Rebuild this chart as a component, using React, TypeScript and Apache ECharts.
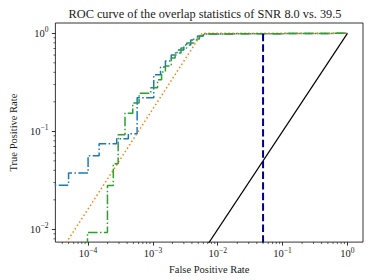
import React, { useEffect, useRef } from "react";
import * as echarts from "echarts";

// axis ranges (data units)
const xMin = 3.13e-5;
const xMax = 1.74;
const yMin = 0.00741;
const yMax = 1.274;
const xMajorTicks = [1e-4, 1e-3, 1e-2, 1e-1, 1];
const yMajorTicks = [1e-2, 1e-1, 1];
const minorMultipliers = [2, 3, 4, 5, 6, 7, 8, 9];
const decades = [1e-5, 1e-4, 1e-3, 1e-2, 1e-1, 1];

// Blue ROC (step breakpoints: FPR where the TPR jumps, TPR level after the jump)
const blueFpr = [2e-5, 5.0e-5, 1.0e-4, 1.48e-4, 2.76e-4, 4.18e-4, 5.71e-4, 1.03e-3, 1.31e-3, 1.56e-3, 1.92e-3, 2.36e-3, 3.0e-3, 3.83e-3, 4.87e-3, 6.0e-3, 7.64e-3, 1.0];
const blueTpr = [0.0282, 0.0375, 0.0565, 0.0748, 0.0841, 0.0946, 0.22, 0.377, 0.454, 0.523, 0.601, 0.676, 0.76, 0.855, 0.939, 0.984, 1.0, 1.0];

// Green ROC
const greenFpr = [9.8e-5, 9.8e-5, 1.99e-4, 2.45e-4, 2.91e-4, 3.71e-4, 4.89e-4, 6.12e-4, 9.27e-4, 1.18e-3, 1.36e-3, 1.56e-3, 1.92e-3, 2.2e-3, 2.71e-3, 3.33e-3, 4.25e-3, 5.22e-3, 6.21e-3, 7.91e-3, 1.0];
const greenTpr = [0.001, 0.0093, 0.028, 0.0468, 0.0923, 0.153, 0.195, 0.244, 0.278, 0.335, 0.404, 0.465, 0.561, 0.63, 0.708, 0.797, 0.875, 0.939, 0.984, 1.0, 1.0];

// Orange reference curve
const orangeFpr = [4.6e-5, 5.69e-3, 1.0];
const orangeTpr = [0.0073, 1.0, 1.0];

// Chance line
const chanceFpr = [0.001, 1.0];
const chanceTpr = [0.001, 1.0];

// Threshold FPR line
const thresholdFpr = [0.05, 0.05];
const thresholdTpr = [0.001, 1.0];

const FONT = "'Liberation Serif', 'DejaVu Serif', serif";
const TEXT = "#1a1a1a";

function stepPoints(fpr: number[], tpr: number[]) {
  const pts: number[][] = [[fpr[0], tpr[0]]];
  for (let i = 1; i < fpr.length; i++) {
    pts.push([fpr[i], tpr[i - 1]]);
    pts.push([fpr[i], tpr[i]]);
  }
  return pts;
}
function pairs(a: number[], b: number[]) {
  return a.map((v, i) => [v, b[i]]);
}

const xMinor: number[] = [];
const yMinor: number[] = [];
decades.forEach((d) =>
  minorMultipliers.forEach((m) => {
    const v = d * m;
    if (v > xMin && v < xMax) xMinor.push(v);
    if (v > yMin && v < yMax) yMinor.push(v);
  })
);

const supLabel = (v: number) => {
  const e = Math.round(Math.log10(v));
  return `{b|10}{s|${e < 0 ? "\u2212" + -e : e}}`;
};
const rich = {
  b: { fontFamily: FONT, fontSize: 10.5, color: TEXT },
  s: { fontFamily: FONT, fontSize: 7.5, color: TEXT, padding: [0, 0, 7, 0] },
};

const dashDot = [9.6, 2.4, 1.5, 2.4];

export default function App() {
  const ref = useRef<HTMLDivElement>(null);
  useEffect(() => {
    if (!ref.current) return;
    const chart = echarts.init(ref.current, null, { renderer: "svg" });
    chart.setOption({
      animation: false,
      backgroundColor: "#fff",
      title: {
        text: "ROC curve of the overlap statistics of SNR 8.0 vs. 39.5",
        left: 200,
        textAlign: "center",
        top: 3,
        textStyle: { fontFamily: FONT, fontSize: 12.3, fontWeight: "normal", color: TEXT },
      },
      grid: {
        left: 47,
        top: 23,
        right: 10,
        bottom: 37.5,
        show: true,
        borderColor: "#000",
        borderWidth: 0.8,
        backgroundColor: "transparent",
      },
      xAxis: {
        type: "log",
        logBase: 10,
        min: xMin,
        max: xMax,
        splitLine: { show: false },
        axisLine: { show: false },
        axisTick: {
          customValues: xMajorTicks,
          length: 3.5,
          lineStyle: { color: "#000", width: 0.8 },
        },
        axisLabel: {
          customValues: xMajorTicks,
          formatter: supLabel,
          rich,
          margin: 4,
        },
        name: "False Positive Rate",
        nameLocation: "middle",
        nameGap: 11,
        nameTextStyle: { fontFamily: FONT, fontSize: 10.5, color: TEXT },
      },
      yAxis: {
        type: "log",
        logBase: 10,
        min: yMin,
        max: yMax,
        splitLine: { show: false },
        axisLine: { show: false },
        axisTick: {
          customValues: yMajorTicks,
          length: 3.5,
          lineStyle: { color: "#000", width: 0.8 },
        },
        axisLabel: {
          customValues: yMajorTicks,
          formatter: supLabel,
          rich,
          margin: 7,
        },
        name: "True Positive Rate",
        nameLocation: "middle",
        nameGap: 29,
        nameTextStyle: { fontFamily: FONT, fontSize: 10.5, color: TEXT },
      },
      series: [
        {
          type: "line",
          data: stepPoints(blueFpr, blueTpr),
          showSymbol: false,
          lineStyle: { color: "#1f77b4", width: 1.5, type: dashDot },
          z: 2,
        },
        {
          type: "line",
          data: pairs(orangeFpr, orangeTpr),
          showSymbol: false,
          lineStyle: { color: "#ff7f0e", width: 1.5, type: [1.5, 2.5] },
          z: 3,
        },
        {
          type: "line",
          data: stepPoints(greenFpr, greenTpr),
          showSymbol: false,
          lineStyle: { color: "#2ca02c", width: 1.5, type: dashDot },
          z: 4,
        },
        {
          type: "line",
          data: pairs(chanceFpr, chanceTpr),
          showSymbol: false,
          lineStyle: { color: "#000", width: 1.2, type: "solid" },
          z: 5,
        },
        {
          type: "line",
          data: pairs(thresholdFpr, thresholdTpr),
          showSymbol: false,
          lineStyle: { color: "#00008b", width: 2, type: [7.4, 3.2] },
          z: 6,
        },
        {
          type: "custom",
          clip: false,
          silent: true,
          data: xMinor.map((v) => [v, yMin]),
          renderItem: (params: any, api: any) => {
            const p = api.coord([api.value(0), api.value(1)]);
            return {
              type: "line",
              shape: { x1: p[0], y1: p[1], x2: p[0], y2: p[1] + 2 },
              style: { stroke: "#000", lineWidth: 0.6 },
            };
          },
          z: 7,
        },
        {
          type: "custom",
          clip: false,
          silent: true,
          data: yMinor.map((v) => [xMin, v]),
          renderItem: (params: any, api: any) => {
            const p = api.coord([api.value(0), api.value(1)]);
            return {
              type: "line",
              shape: { x1: p[0], y1: p[1], x2: p[0] - 2, y2: p[1] },
              style: { stroke: "#000", lineWidth: 0.6 },
            };
          },
          z: 7,
        },
      ],
    });
    return () => chart.dispose();
  }, []);
  return <div ref={ref} style={{ width: 373, height: 280, position: "absolute", left: 0, top: 0 }} />;
}
